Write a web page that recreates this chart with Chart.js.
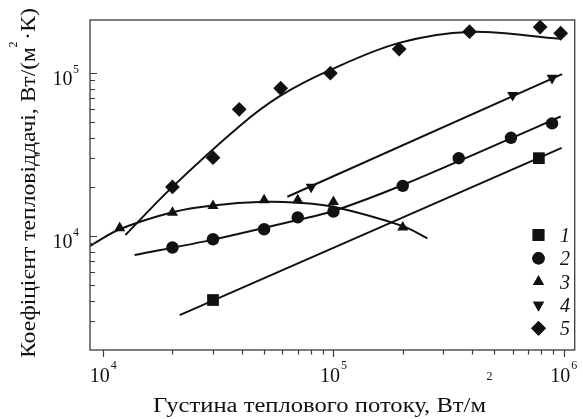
<!DOCTYPE html>
<html>
<head>
<meta charset="utf-8">
<script src="https://cdn.jsdelivr.net/npm/chart.js@4.4.0/dist/chart.umd.min.js"></script>
<style>
  body { margin: 0; background: #fff; }
  #wrap { width: 583px; height: 419px; }
</style>
</head>
<body>
<div id="wrap"><canvas id="chart" width="583" height="419"></canvas></div>
<script>
// measured points (heat flux q, W/m2 -> heat transfer coefficient, W/(m2 K))
const flux1 = [3.0e4, 7.8e5];
const alpha1 = [4.05e3, 3.0e4];
const flux2 = [2.0e4, 3.0e4, 5.0e4, 7.0e4, 1.0e5, 2.0e5, 3.5e5, 5.9e5, 8.9e5];
const alpha2 = [8.5e3, 9.55e3, 1.1e4, 1.3e4, 1.41e4, 2.03e4, 3.0e4, 4.0e4, 4.9e4];
const flux3 = [1.18e4, 2.0e4, 3.0e4, 5.0e4, 7.0e4, 1.0e5, 2.0e5];
const alpha3 = [1.12e4, 1.39e4, 1.53e4, 1.66e4, 1.66e4, 1.62e4, 1.13e4];
const flux4 = [8.0e4, 6.0e5, 8.9e5];
const alpha4 = [2.0e4, 7.3e4, 9.3e4];
const flux5 = [2.0e4, 3.0e4, 3.9e4, 5.9e4, 9.7e4, 1.93e5, 3.9e5, 7.9e5, 9.7e5];
const alpha5 = [2.0e4, 3.02e4, 5.98e4, 8.05e4, 9.96e4, 1.40e5, 1.79e5, 1.91e5, 1.75e5];

// fitted curves
const fitFlux1 = [2.15e4, 9.8e5];
const fitAlpha1 = [3.27e3, 3.47e4];
const fitFlux2 = [1.37e4, 3.0e4, 7.0e4, 1.0e5, 2.0e5, 6.0e5, 9.7e5];
const fitAlpha2 = [7.64e3, 9.5e3, 1.254e4, 1.423e4, 2.055e4, 4.01e4, 5.4e4];
const fitFlux3 = [8.77e3, 1.18e4, 2.0e4, 3.0e4, 5.0e4, 7.0e4, 1.0e5, 2.0e5, 2.56e5];
const fitAlpha3 = [8.68e3, 1.10e4, 1.40e4, 1.54e4, 1.62e4, 1.60e4, 1.51e4, 1.15e4, 9.68e3];
const fitFlux4 = [6.31e4, 9.84e5];
const fitAlpha4 = [1.74e4, 9.82e4];
const fitFlux5 = [1.25e4, 2.0e4, 3.92e4, 5.87e4, 9.7e4, 1.93e5, 3.89e5, 9.68e5];
const fitAlpha5 = [1.014e4, 2.0e4, 4.73e4, 7.22e4, 1.043e5, 1.528e5, 1.784e5, 1.618e5];

// axes
const xMin = 8.77e3, xMax = 1.116e6;
const yMin = 2.0e3, yMax = 2.11e5;
const xDecades = [1e4, 1e5, 1e6];
const xExps = ['4', '5', '6'];
const yDecades = [1e4, 1e5];
const yExps = ['4', '5'];

const seriesNames = ['1', '2', '3', '4', '5'];
const xTitle = 'Густина теплового потоку, Вт/м';
const yTitle = 'Коефіцієнт тепловіддачі, Вт/(м';
const yTitleEnd = '·К)';

const ink = '#111';
const serif = '"Liberation Serif", "DejaVu Serif", serif';

const markers = [
  { pointStyle: 'rect', radius: 8.3, rotation: 0 },
  { pointStyle: 'circle', radius: 6.2, rotation: 0 },
  { pointStyle: 'triangle', radius: 6.4, rotation: 0 },
  { pointStyle: 'triangle', radius: 6.4, rotation: 180 },
  { pointStyle: 'rectRot', radius: 7.4, rotation: 0 }
];

const toXY = (xs, ys) => xs.map((x, i) => ({ x: x, y: ys[i] }));

const pointSets = [[flux1, alpha1], [flux2, alpha2], [flux3, alpha3], [flux4, alpha4], [flux5, alpha5]];
const fitSets = [[fitFlux1, fitAlpha1, 0], [fitFlux2, fitAlpha2, 0.3], [fitFlux3, fitAlpha3, 0.35],
                 [fitFlux4, fitAlpha4, 0], [fitFlux5, fitAlpha5, 0.35]];

const datasets = [];
pointSets.forEach((s, i) => {
  datasets.push({
    label: seriesNames[i],
    data: toXY(s[0], s[1]),
    showLine: false,
    pointStyle: markers[i].pointStyle,
    pointRadius: markers[i].radius,
    rotation: markers[i].rotation,
    pointBackgroundColor: ink,
    pointBorderColor: ink,
    pointBorderWidth: 0,
    clip: false
  });
});
fitSets.forEach((s, i) => {
  datasets.push({
    label: 'fit ' + seriesNames[i],
    data: toXY(s[0], s[1]),
    showLine: true,
    pointRadius: 0,
    borderColor: ink,
    borderWidth: 2,
    tension: s[2]
  });
});

function textStretched(ctx, text, x, y, targetW) {
  const w = ctx.measureText(text).width;
  ctx.save();
  ctx.translate(x, y);
  ctx.scale(targetW / w, 1);
  ctx.fillText(text, 0, 0);
  ctx.restore();
}

// frame, log ticks, labels and the legend
const decorPlugin = {
  id: 'decor',
  afterDraw(chart) {
    const ctx = chart.ctx;
    const area = chart.chartArea;
    const xs = chart.scales.x, ys = chart.scales.y;
    ctx.save();

    ctx.strokeStyle = '#3a3a3a';
    ctx.lineWidth = 1.3;
    ctx.strokeRect(area.left, area.top, area.right - area.left, area.bottom - area.top);

    // x ticks, outward
    ctx.lineWidth = 1.2;
    ctx.beginPath();
    for (let e = 3; e <= 6; e++) {
      for (let m = 1; m <= 9; m++) {
        const v = m * Math.pow(10, e);
        const px = xs.getPixelForValue(v);
        if (px < area.left + 4 || px > area.right - 2) continue;
        const len = m === 1 ? 7 : 4.5;
        ctx.moveTo(Math.round(px) + 0.5, area.bottom);
        ctx.lineTo(Math.round(px) + 0.5, area.bottom + len);
      }
    }
    // y ticks, inward
    for (let e = 3; e <= 5; e++) {
      for (let m = 1; m <= 9; m++) {
        const v = m * Math.pow(10, e);
        const py = ys.getPixelForValue(v);
        if (py > area.bottom - 4 || py < area.top + 4) continue;
        const len = m === 1 ? 7 : 5;
        ctx.moveTo(area.left, Math.round(py) + 0.5);
        ctx.lineTo(area.left + len, Math.round(py) + 0.5);
      }
    }
    ctx.stroke();

    ctx.fillStyle = ink;
    ctx.textBaseline = 'alphabetic';

    // x tick labels
    xDecades.forEach((v, i) => {
      const px = xs.getPixelForValue(v);
      ctx.font = '20px ' + serif;
      const w10 = ctx.measureText('10').width;
      ctx.font = '12px ' + serif;
      const wE = ctx.measureText(xExps[i]).width;
      const x0 = px - (w10 + wE + 1) / 2;
      ctx.textAlign = 'left';
      ctx.font = '20px ' + serif;
      ctx.fillText('10', x0, 382);
      ctx.font = '12px ' + serif;
      ctx.fillText(xExps[i], x0 + w10 + 1, 369);
    });

    // y tick labels
    yDecades.forEach((v, i) => {
      const py = ys.getPixelForValue(v);
      ctx.textAlign = 'right';
      ctx.font = '20px ' + serif;
      ctx.fillText('10', 72.5, py + 12);
      ctx.textAlign = 'left';
      ctx.font = '12px ' + serif;
      ctx.fillText(yExps[i], 73, py);
    });

    // x title
    ctx.textAlign = 'left';
    ctx.font = '20px ' + serif;
    textStretched(ctx, xTitle, 153, 412, 333);
    ctx.font = '12px ' + serif;
    ctx.fillText('2', 486.5, 380);

    // y title
    ctx.save();
    ctx.translate(35, 358);
    ctx.rotate(-Math.PI / 2);
    ctx.font = '20px ' + serif;
    textStretched(ctx, yTitle, 0, 0, 311);
    ctx.font = '12px ' + serif;
    ctx.fillText('2', 310.5, -18);
    ctx.font = '20px ' + serif;
    textStretched(ctx, yTitleEnd, 318, 0, 32);
    ctx.restore();

    // legend
    const rows = [235, 258.3, 281.7, 305, 328.3];
    rows.forEach((ry, i) => {
      ctx.fillStyle = ink;
      Chart.helpers.drawPoint(ctx, {
        pointStyle: markers[i].pointStyle,
        radius: markers[i].radius,
        rotation: markers[i].rotation,
        borderWidth: 0
      }, 538.5, ry);
      ctx.fill();
      ctx.textAlign = 'center';
      ctx.font = 'italic 20px ' + serif;
      ctx.fillText(seriesNames[i], 565, ry + 7);
    });

    ctx.restore();
  }
};

new Chart(document.getElementById('chart'), {
  type: 'scatter',
  data: { datasets: datasets },
  options: {
    responsive: false,
    animation: false,
    devicePixelRatio: 1,
    layout: { padding: { left: 90, top: 20, right: 2, bottom: 69 } },
    plugins: { legend: { display: false }, tooltip: { enabled: false } },
    scales: {
      x: { type: 'logarithmic', min: xMin, max: xMax, display: false },
      y: { type: 'logarithmic', min: yMin, max: yMax, display: false }
    }
  },
  plugins: [decorPlugin]
});
</script>
</body>
</html>
